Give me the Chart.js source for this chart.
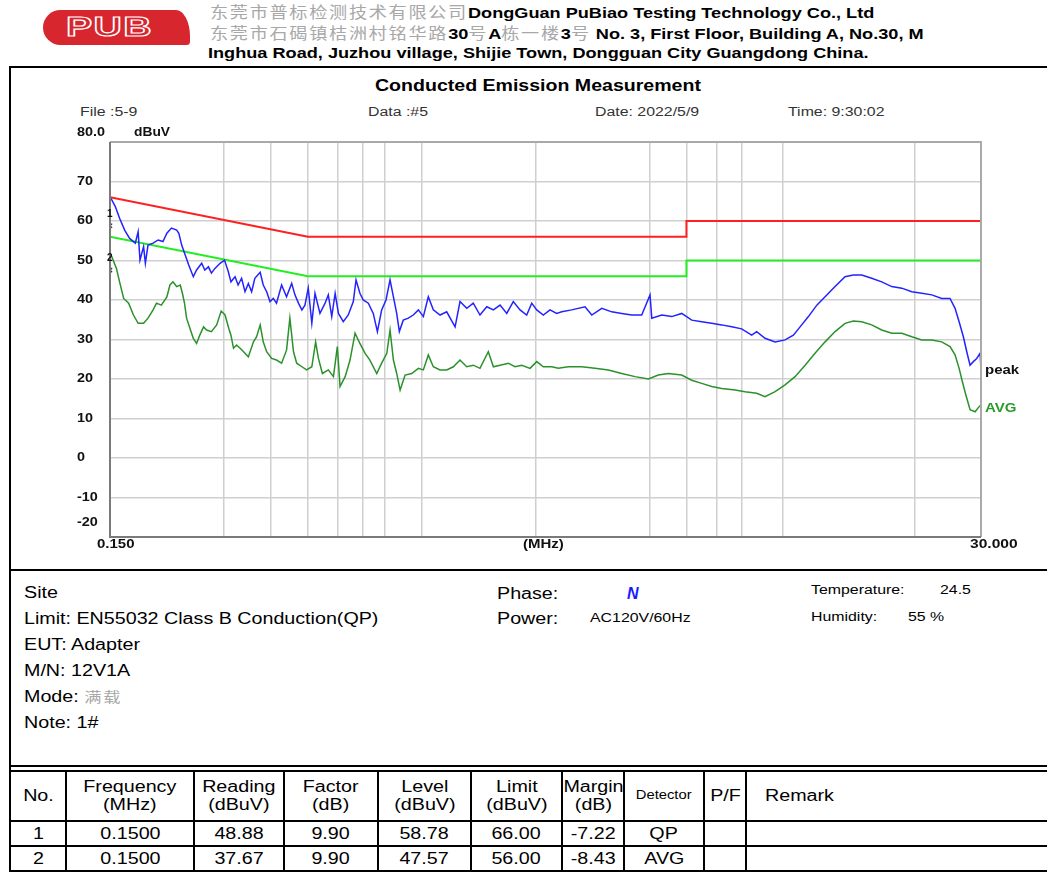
<!DOCTYPE html>
<html>
<head>
<meta charset="utf-8">
<script src="https://cdn.jsdelivr.net/npm/chart.js@4.4.1/dist/chart.umd.min.js"></script>
<style>
  body { margin: 0; width: 1047px; height: 872px; overflow: hidden; background: #fff; position: relative;
         font-family: "Liberation Sans", Arial, sans-serif; color: #000; }
  .t { position: absolute; white-space: nowrap; line-height: 1; transform-origin: left center; }
  .cn { font-family: "Noto Sans CJK SC", sans-serif; color: #a8a8a8; font-weight: normal; letter-spacing: 1.46px; }
  .hd { font-size: 15.5px; font-weight: bold; transform: scaleX(1.17); }
  .cap { font-size: 12.5px; color: #333; transform: scaleX(1.27); }
  .info { font-size: 16px; transform: scaleX(1.23); }
  .hl { position: absolute; background: #000; }
  #chartBox { position: absolute; left: 0; top: 120px; }
  table.res { position: absolute; left: 9px; top: 770px; border-collapse: collapse; table-layout: fixed; width: 1045px; }
  table.res td { border: 2px solid #000; text-align: center; font-size: 16px; padding: 0; overflow: hidden; }
  table.res td span { display: inline-block; transform: scaleX(1.23); white-space: nowrap; }
  table.res td.left span { transform-origin: left center; }
  table.res tr.head td { height: 48px; line-height: 1.12; }
  table.res tr.row td { height: 23px; }
</style>
</head>
<body>

<!-- header -->
<div style="position:absolute;left:43px;top:10px;width:147px;height:35px;background:#d7262e;border-radius:20px 16px 4px 20px / 20px 30px 4px 20px;"></div>
<div class="t" style="left:66px;top:14px;font-size:27px;font-weight:bold;letter-spacing:1px;color:#d7262e;-webkit-text-stroke:1.2px #fff;transform:scaleX(1.45);">PUB</div>

<div class="t hd" style="left:210px;top:4px;">
  <span class="cn">东莞市普标检测技术有限公司</span>DongGuan PuBiao Testing Technology Co., Ltd
</div>
<div class="t hd" style="left:210px;top:25px;">
  <span class="cn">东莞市石碣镇桔洲村铭华路</span>30<span class="cn">号</span>A<span class="cn">栋一楼</span>3<span class="cn">号</span> No. 3, First Floor, Building A, No.30, M
</div>
<div class="t hd" style="left:208px;top:45px;">Inghua Road, Juzhou village, Shijie Town, Dongguan City Guangdong China.</div>

<!-- frame lines -->
<div class="hl" style="left:9px;top:66px;width:1038px;height:2px;"></div>
<div class="hl" style="left:9px;top:66px;width:2px;height:806px;"></div>
<div class="hl" style="left:9px;top:569px;width:1038px;height:2px;"></div>
<div class="hl" style="left:9px;top:765px;width:1038px;height:2px;"></div>

<!-- chart captions -->
<div class="t" style="left:375px;top:77px;font-size:17px;font-weight:bold;transform:scaleX(1.15);">Conducted Emission Measurement</div>
<div class="t cap" style="left:80px;top:106px;">File :5-9</div>
<div class="t cap" style="left:368px;top:106px;">Data :#5</div>
<div class="t cap" style="left:595px;top:106px;">Date: 2022/5/9</div>
<div class="t cap" style="left:788px;top:106px;">Time: 9:30:02</div>

<div id="chartBox"><canvas id="emiChart" width="1047" height="450"></canvas></div>

<!-- info block -->
<div class="t info" style="left:24px;top:585px;">Site</div>
<div class="t info" style="left:24px;top:611px;">Limit: EN55032 Class B Conduction(QP)</div>
<div class="t info" style="left:24px;top:637px;">EUT: Adapter</div>
<div class="t info" style="left:24px;top:663px;">M/N: 12V1A</div>
<div class="t info" style="left:24px;top:689px;">Mode: <span class="cn" style="font-size:14px;">满载</span></div>
<div class="t info" style="left:24px;top:715px;">Note: 1#</div>

<div class="t info" style="left:497px;top:586px;">Phase:</div>
<div class="t" style="left:627px;top:586px;font-size:16px;font-weight:bold;font-style:italic;color:#1a1aff;">N</div>
<div class="t info" style="left:497px;top:611px;">Power:</div>
<div class="t cap" style="left:590px;top:612px;color:#000;">AC120V/60Hz</div>
<div class="t cap" style="left:811px;top:584px;color:#000;">Temperature:</div>
<div class="t cap" style="left:940px;top:584px;color:#000;">24.5</div>
<div class="t cap" style="left:811px;top:611px;color:#000;">Humidity:</div>
<div class="t cap" style="left:908px;top:611px;color:#000;">55 %</div>

<table class="res" id="resTable"></table>

<script>
// limit lines (EN55032 class B, conducted)
const limitQpFreq = [0.15, 0.5, 5, 5, 30];
const limitQpLevel = [66, 56, 56, 60, 60];
const limitAvgFreq = [0.15, 0.5, 5, 5, 30];
const limitAvgLevel = [56, 46, 46, 50, 50];

// peak trace (blue)
const peakFreq = [0.151, 0.155, 0.159, 0.164, 0.169, 0.175, 0.178, 0.180, 0.184, 0.186, 0.189, 0.195, 0.201, 0.207,
  0.212, 0.218, 0.225, 0.228, 0.232, 0.237, 0.242, 0.249, 0.254, 0.262, 0.267, 0.273, 0.278, 0.284, 0.293, 0.301,
  0.308, 0.313, 0.321, 0.327, 0.334, 0.341, 0.348, 0.355, 0.362, 0.374, 0.381, 0.389, 0.397, 0.405, 0.413, 0.426,
  0.439, 0.453, 0.462, 0.472, 0.482, 0.491, 0.501, 0.512, 0.522, 0.538, 0.555, 0.566, 0.578, 0.590, 0.602, 0.620,
  0.639, 0.659, 0.670, 0.686, 0.700, 0.722, 0.744, 0.763, 0.783, 0.804, 0.824, 0.841, 0.858, 0.872, 0.893, 0.921,
  0.949, 0.979, 1.009, 1.040, 1.072, 1.117, 1.163, 1.224, 1.261, 1.314, 1.367, 1.424, 1.484, 1.545, 1.609, 1.676,
  1.744, 1.817, 1.892, 1.951, 2.011, 2.093, 2.180, 2.271, 2.341, 2.488, 2.698, 2.811, 2.987, 3.174, 3.373, 3.584,
  3.809, 4.006, 4.049, 4.302, 4.572, 4.858, 5.163, 5.486, 5.830, 6.195, 6.583, 6.997, 7.435, 7.665, 8.066, 8.573,
  9.110, 9.582, 9.980, 10.50, 11.05, 11.62, 12.35, 13.12, 13.80, 14.52, 15.43, 16.40, 17.43, 18.53, 19.69, 20.93,
  22.24, 23.63, 24.85, 25.62, 26.26, 26.95, 27.51, 28.07, 28.63, 29.23, 29.83, 30.0];
const peakLevel = [65.7, 63.6, 60.7, 57.7, 55.6, 54.4, 57.3, 50.1, 53.5, 49.3, 53.9, 54.4, 55.2, 54.8,
  56.9, 58.2, 57.7, 56.9, 53.9, 51.4, 48.9, 45.9, 47.6, 49.3, 47.6, 48.4, 46.8, 48.0, 49.3, 50.1,
  47.2, 44.6, 45.9, 43.8, 45.5, 42.1, 44.2, 42.1, 45.5, 47.0, 43.8, 42.1, 39.6, 40.4, 39.2, 43.8,
  40.8, 44.2, 41.3, 39.2, 37.5, 38.7, 43.0, 34.1, 41.7, 36.6, 39.2, 41.3, 35.8, 41.7, 36.6, 34.5,
  36.2, 39.6, 45.1, 41.7, 40.0, 39.2, 36.6, 32.0, 37.5, 40.0, 45.1, 40.8, 36.6, 32.0, 34.9, 35.4,
  36.2, 37.5, 35.8, 40.8, 37.5, 36.2, 37.0, 33.2, 39.6, 37.9, 39.2, 36.2, 38.3, 37.5, 38.7, 36.6,
  39.6, 37.5, 36.2, 39.2, 37.5, 36.2, 37.5, 36.6, 37.0, 37.5, 38.3, 36.2, 37.9, 37.0, 36.6, 36.2,
  36.2, 41.3, 35.4, 36.2, 35.8, 36.6, 34.9, 34.5, 34.1, 33.7, 33.2, 32.7, 31.1, 32.0, 30.3, 29.4,
  29.9, 31.1, 33.2, 35.8, 38.7, 40.8, 43.4, 45.9, 46.3, 46.3, 45.5, 44.6, 43.4, 43.0, 42.1, 41.7,
  41.3, 40.4, 40.4, 37.9, 34.5, 30.7, 26.9, 23.5, 24.4, 25.2, 26.5, 22.7];

// average trace (green)
const avgFreq = [0.151, 0.156, 0.159, 0.163, 0.168, 0.173, 0.178, 0.184, 0.189, 0.195, 0.199, 0.205, 0.212, 0.216,
  0.220, 0.225, 0.230, 0.233, 0.236, 0.239, 0.244, 0.249, 0.254, 0.259, 0.265, 0.270, 0.278, 0.287, 0.295, 0.302,
  0.309, 0.313, 0.318, 0.324, 0.331, 0.338, 0.348, 0.359, 0.366, 0.374, 0.381, 0.389, 0.401, 0.413, 0.426, 0.439,
  0.448, 0.458, 0.467, 0.482, 0.496, 0.512, 0.524, 0.533, 0.546, 0.566, 0.584, 0.598, 0.608, 0.627, 0.646, 0.666,
  0.686, 0.708, 0.729, 0.760, 0.783, 0.808, 0.824, 0.841, 0.858, 0.876, 0.903, 0.940, 0.979, 1.009, 1.040, 1.072,
  1.117, 1.163, 1.211, 1.261, 1.314, 1.367, 1.424, 1.498, 1.545, 1.609, 1.692, 1.762, 1.836, 1.931, 2.011, 2.093,
  2.203, 2.293, 2.437, 2.644, 2.868, 3.110, 3.373, 3.657, 3.966, 4.214, 4.477, 4.858, 5.163, 5.486, 5.830, 6.195,
  6.720, 7.140, 7.665, 8.066, 8.573, 9.110, 9.680, 10.29, 10.93, 11.62, 12.35, 13.12, 13.80, 14.52, 15.43, 16.40,
  17.43, 18.53, 19.69, 20.93, 22.24, 23.63, 24.85, 25.62, 26.26, 26.79, 27.35, 28.07, 28.94, 29.66, 30.0];
const avgLevel = [51.4, 48.0, 44.6, 40.4, 39.2, 36.2, 34.1, 34.1, 35.4, 37.5, 39.2, 38.7, 40.8, 43.8,
  44.6, 43.4, 43.8, 41.7, 39.2, 35.4, 32.8, 30.3, 29.0, 31.1, 33.2, 32.4, 32.0, 33.7, 37.2, 36.2,
  32.8, 31.1, 27.8, 28.6, 27.8, 26.9, 25.6, 29.4, 30.7, 33.7, 29.4, 26.9, 25.2, 24.8, 24.0, 27.3,
  35.4, 26.9, 24.0, 23.1, 22.3, 23.1, 29.4, 25.2, 21.4, 22.3, 20.6, 28.2, 18.1, 20.6, 24.8, 31.6,
  29.0, 26.5, 24.8, 21.4, 24.0, 26.5, 32.4, 24.8, 21.4, 17.2, 21.0, 21.4, 22.7, 22.3, 26.1, 23.1,
  22.3, 22.3, 23.1, 24.8, 23.1, 23.5, 22.7, 26.9, 23.1, 23.5, 24.0, 23.1, 23.5, 22.7, 24.4, 23.1,
  23.1, 22.7, 23.1, 23.1, 22.7, 22.3, 21.4, 20.6, 20.0, 21.0, 21.4, 21.0, 19.7, 18.9, 18.1, 17.6,
  17.2, 16.8, 16.4, 15.5, 16.8, 18.5, 20.6, 23.5, 26.5, 29.4, 32.0, 34.1, 34.7, 34.5, 33.7, 32.4,
  31.6, 31.6, 30.7, 29.9, 29.9, 29.4, 28.2, 26.1, 22.7, 19.3, 16.0, 12.2, 11.7, 13.0, 13.4];

// final measurement markers
const markerNo = ['1', '2'];
const markerFreq = [0.15, 0.15];
const markerLevel = [58.78, 47.57];

// axes
const freqMin = 0.15, freqMax = 30;
const levelMin = -20, levelMax = 80;
const freqGrid = [0.3, 0.4, 0.5, 0.6, 0.7, 0.8, 1, 2, 4, 5, 6, 7, 9, 20];
const levelGrid = [-10, 0, 10, 20, 30, 40, 50, 60, 70];
const levelTickValues = [80, 70, 60, 50, 40, 30, 20, 10, 0, -10, -20];
const levelTickLabels = ['80.0', '70', '60', '50', '40', '30', '20', '10', '0', '-10', '-20'];

// result table
const tableHead = ['No.', 'Frequency<br>(MHz)', 'Reading<br>(dBuV)', 'Factor<br>(dB)', 'Level<br>(dBuV)',
  'Limit<br>(dBuV)', 'Margin<br>(dB)', 'Detector', 'P/F', 'Remark'];
const tableRows = [
  ['1', '0.1500', '48.88', '9.90', '58.78', '66.00', '-7.22', 'QP', '', ''],
  ['2', '0.1500', '37.67', '9.90', '47.57', '56.00', '-8.43', 'AVG', '', '']
];
const colWidths = [56, 128, 90, 94, 93, 91, 62, 80, 42, 309];

function toPoints(xs, ys) {
  return xs.map((x, i) => ({ x: x, y: ys[i] }));
}

// build the table
const tableEl = document.getElementById('resTable');
let html = '<colgroup>' + colWidths.map(w => `<col style="width:${w}px">`).join('') + '</colgroup>';
html += '<tr class="head">' + tableHead.map(h => {
  if (h === 'Detector') return `<td style="font-size:12px"><span>${h}</span></td>`;
  if (h === 'Remark') return `<td class="left" style="text-align:left;padding-left:18px"><span>${h}</span></td>`;
  return `<td><span>${h}</span></td>`;
}).join('') + '</tr>';
tableRows.forEach(r => {
  html += '<tr class="row">' + r.map(c => `<td><span>${c}</span></td>`).join('') + '</tr>';
});
tableEl.innerHTML = html;

// stretched text, the report prints its labels wide
function wideText(ctx, txt, x, y, sx) {
  ctx.save();
  ctx.translate(x, y);
  ctx.scale(sx, 1);
  ctx.fillText(txt, 0, 0);
  ctx.restore();
}

// frame, tick labels and trace names
const framePlugin = {
  id: 'emiFrame',
  afterDraw(chart) {
    const { ctx, chartArea: a, scales: { x, y } } = chart;
    ctx.save();
    ctx.strokeStyle = '#a9a9a9';
    ctx.lineWidth = 2;
    ctx.beginPath();
    ctx.moveTo(a.left, a.top); ctx.lineTo(a.right, a.top); ctx.lineTo(a.right, a.bottom);
    ctx.stroke();
    ctx.strokeStyle = '#7a7a7a';
    ctx.beginPath();
    ctx.moveTo(a.left, a.top); ctx.lineTo(a.left, a.bottom); ctx.lineTo(a.right, a.bottom);
    ctx.stroke();

    ctx.fillStyle = '#111';
    ctx.font = 'bold 12px "Liberation Sans", Arial, sans-serif';
    ctx.textBaseline = 'middle';
    ctx.textAlign = 'left';
    levelTickValues.forEach((v, i) => {
      let py = y.getPixelForValue(v);
      if (v === levelMax) py -= 9;
      if (v === levelMin) py -= 14;
      wideText(ctx, levelTickLabels[i], 77, py, 1.2);
    });
    wideText(ctx, 'dBuV', 134, y.getPixelForValue(levelMax) - 9, 1.15);

    const by = a.bottom + 8;
    wideText(ctx, '0.150', a.left - 13, by, 1.25);
    wideText(ctx, '(MHz)', 523, by, 1.25);
    wideText(ctx, '30.000', a.right - 11, by, 1.3);

    wideText(ctx, 'peak', a.right + 4, y.getPixelForValue(peakLevel[peakLevel.length - 1]) + 2, 1.25);
    ctx.fillStyle = '#2a9a2a';
    wideText(ctx, 'AVG', a.right + 4, y.getPixelForValue(avgLevel[avgLevel.length - 1]) + 4, 1.25);

    ctx.fillStyle = '#111';
    ctx.font = 'bold 10px "Liberation Sans", Arial, sans-serif';
    markerNo.forEach((n, i) => {
      ctx.fillText(n, x.getPixelForValue(markerFreq[i]) - 3, y.getPixelForValue(markerLevel[i]) - 12);
    });
    ctx.restore();
  }
};

const ctx = document.getElementById('emiChart').getContext('2d');
new Chart(ctx, {
  type: 'line',
  data: {
    datasets: [
      {
        label: 'markers',
        type: 'scatter',
        data: toPoints(markerFreq, markerLevel),
        pointStyle: 'crossRot',
        pointRadius: 3,
        borderColor: '#333',
        borderWidth: 1.2,
        showLine: false
      },
      {
        label: 'peak',
        data: toPoints(peakFreq, peakLevel),
        borderColor: '#2323ff',
        borderWidth: 1.5,
        pointRadius: 0,
        tension: 0
      },
      {
        label: 'AVG',
        data: toPoints(avgFreq, avgLevel),
        borderColor: '#2b912b',
        borderWidth: 1.5,
        pointRadius: 0,
        tension: 0
      },
      {
        label: 'QP limit',
        data: toPoints(limitQpFreq, limitQpLevel),
        borderColor: '#ff1f1f',
        borderWidth: 2,
        pointRadius: 0
      },
      {
        label: 'AVG limit',
        data: toPoints(limitAvgFreq, limitAvgLevel),
        borderColor: '#22ee22',
        borderWidth: 2,
        pointRadius: 0
      }
    ]
  },
  options: {
    responsive: false,
    animation: false,
    layout: { padding: { left: 110, right: 66, top: 22, bottom: 33 } },
    plugins: { legend: { display: false }, tooltip: { enabled: false } },
    scales: {
      x: {
        type: 'logarithmic',
        min: freqMin,
        max: freqMax,
        afterBuildTicks: s => { s.ticks = freqGrid.map(v => ({ value: v })); },
        ticks: { display: false },
        grid: { color: '#cfcfcf', lineWidth: 1.5, drawTicks: false },
        border: { display: false }
      },
      y: {
        type: 'linear',
        min: levelMin,
        max: levelMax,
        afterBuildTicks: s => { s.ticks = levelGrid.map(v => ({ value: v })); },
        ticks: { display: false },
        grid: { color: '#cfcfcf', lineWidth: 1.5, drawTicks: false },
        border: { display: false }
      }
    }
  },
  plugins: [framePlugin]
});
</script>
</body>
</html>
